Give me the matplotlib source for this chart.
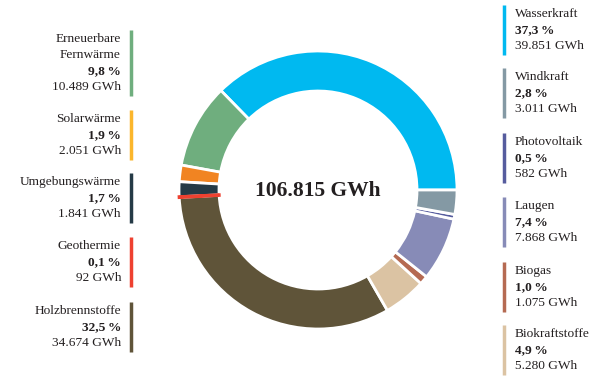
import matplotlib.pyplot as plt
from matplotlib.patches import Wedge

# data, in drawing order (counter-clockwise from 3 o'clock)
names = ['Wasserkraft', 'Erneuerbare\nFernwärme', 'Solarwärme', 'Umgebungswärme',
         'Geothermie', 'Holzbrennstoffe', 'Biokraftstoffe', 'Biogas', 'Laugen',
         'Photovoltaik', 'Windkraft']
gwh = [39851, 10489, 2051, 1841, 92, 34674, 5280, 1075, 7868, 582, 3011]
pct = ['37,3', '9,8', '1,9', '1,7', '0,1', '32,5', '4,9', '1,0', '7,4', '0,5', '2,8']
gwh_labels = ['39.851', '10.489', '2.051', '1.841', '92', '34.674', '5.280',
              '1.075', '7.868', '582', '3.011']
colors = ['#00b9f0', '#6fae7e', '#f18422', '#253a46', '#ee4130', '#5f5439',
          '#dbc3a3', '#b56a52', '#878bb7', '#565c9e', '#8499a4']
bar_colors = colors.copy()
bar_colors[2] = '#fbb62c'
total_label = '106.815 GWh'

left_items = [1, 2, 3, 4, 5]
right_items = [0, 10, 9, 8, 7, 6]
left_tops = [30, 110, 173, 237, 302]
right_tops = [5, 68, 133, 197, 262, 325]

W, H = 591, 376
fig = plt.figure(figsize=(W / 100, H / 100), dpi=100)
ax = fig.add_axes([0, 0, 1, 1])

cx, cy, r = 318, H - 190, 139
wedges, _ = ax.pie(gwh, colors=colors, startangle=0, counterclock=True,
                   radius=r, center=(cx, cy),
                   wedgeprops=dict(width=40, edgecolor='white', linewidth=2))
# the tiny Geothermie slice would vanish under the white gaps
ring = Wedge((cx, cy), r, 0, 360, width=40, transform=ax.transData)
wedges[4].set_edgecolor(colors[4])
wedges[4].set_linewidth(2.2)
wedges[4].set_zorder(5)
wedges[4].set_clip_path(ring)

ax.set_xlim(0, W)
ax.set_ylim(0, H)
ax.set_aspect('equal')
ax.axis('off')

font = 'Liberation Serif'
tc = '#231f20'
ax.text(cx, cy - 1, total_label, ha='center', va='center', fontsize=15.5,
        fontweight='bold', family=font, color=tc)


def block(i, top, side):
    lines = names[i].split('\n')
    rows = [(l, 'normal') for l in lines]
    rows += [(pct[i] + '\u2009%', 'bold'), (gwh_labels[i] + ' GWh', 'normal')]
    if side == 'left':
        tx, bx, ha = 121, 131, 'right'
    else:
        tx, bx, ha = 515, 504, 'left'
    for k, (s, w) in enumerate(rows):
        y = top + 9 + 16 * k
        ax.text(tx, H - y, s, ha=ha, va='center', fontsize=9.6, fontweight=w,
                family=font, color=tc)
    bottom = top + 18 + 16 * (len(rows) - 1)
    ax.plot([bx, bx], [H - top, H - bottom], color=bar_colors[i], lw=2.5,
            solid_capstyle='butt')


for i, t in zip(left_items, left_tops):
    block(i, t, 'left')
for i, t in zip(right_items, right_tops):
    block(i, t, 'right')

fig.savefig('out.png', dpi=100)
